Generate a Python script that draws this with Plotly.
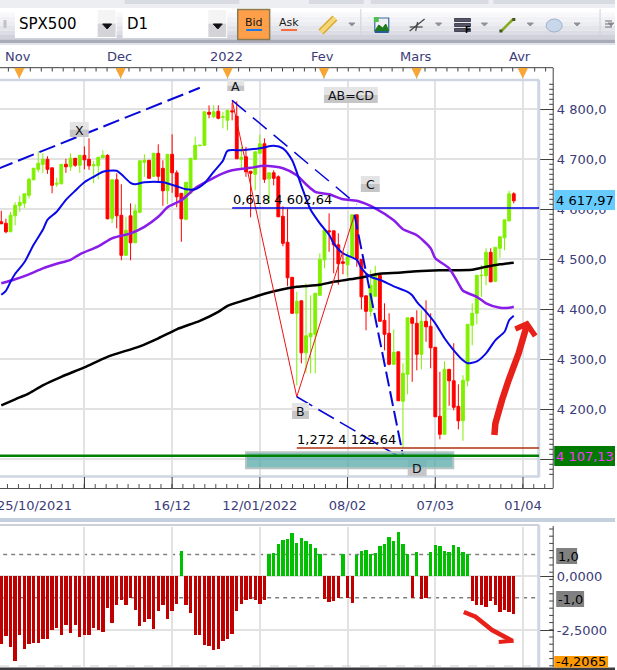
import plotly.graph_objects as go

W, H = 617, 670

# ---------- data (bar index 0..111) ----------
opens = [4575,4572,4555,4587,4607,4612,4628,4659,4680,4690,4700,4683,4650,4651,4690,4685,4702,4688,4708,4700,4687,4687,4703,4708,4582,4659,4588,4508,4587,4533,4594,4694,4698,4666,4712,4682,4637,4710,4673,4632,4580,4632,4700,4727,4728,4794,4785,4796,4784,4778,4797,4786,4700,4705,4676,4670,4712,4731,4661,4673,4665,4586,4534,4464,4392,4417,4313,4345,4350,4428,4499,4557,4557,4529,4495,4489,4505,4589,4500,4427,4396,4426,4468,4378,4352,4290,4315,4216,4270,4383,4372,4310,4376,4366,4324,4186,4150,4280,4257,4206,4177,4257,4368,4392,4467,4467,4514,4456,4522,4543,4577,4631]
highs = [4597,4581,4595,4614,4627,4631,4663,4683,4716,4712,4706,4683,4663,4690,4701,4712,4702,4708,4726,4742,4697,4705,4718,4710,4659,4672,4650,4585,4612,4610,4698,4710,4698,4713,4730,4698,4710,4750,4678,4632,4654,4702,4745,4729,4795,4808,4808,4808,4795,4798,4813,4816,4725,4725,4677,4715,4749,4742,4673,4678,4668,4606,4601,4464,4435,4417,4452,4428,4432,4512,4560,4592,4557,4552,4515,4515,4589,4589,4500,4427,4479,4487,4472,4412,4392,4360,4315,4292,4383,4385,4398,4398,4418,4392,4324,4275,4296,4280,4332,4250,4268,4370,4412,4468,4488,4522,4522,4524,4545,4579,4637,4634]
lows = [4571,4552,4555,4568,4595,4603,4622,4658,4674,4672,4671,4632,4645,4650,4673,4677,4685,4673,4680,4679,4652,4660,4703,4580,4572,4562,4498,4508,4498,4533,4592,4665,4662,4665,4655,4607,4610,4633,4604,4535,4578,4632,4698,4727,4728,4782,4782,4780,4762,4758,4778,4701,4682,4665,4584,4638,4711,4653,4612,4648,4585,4526,4446,4392,4248,4292,4273,4272,4272,4428,4482,4515,4472,4449,4470,4465,4505,4485,4400,4358,4386,4426,4376,4318,4288,4290,4217,4122,4230,4255,4278,4280,4335,4282,4185,4140,4150,4207,4198,4160,4137,4246,4328,4370,4425,4448,4454,4455,4503,4518,4575,4612]
closes = [4571,4555,4588,4608,4614,4631,4660,4682,4692,4700,4680,4648,4652,4690,4685,4702,4688,4708,4699,4687,4689,4704,4708,4581,4659,4587,4508,4558,4533,4597,4697,4698,4662,4712,4666,4637,4710,4673,4625,4581,4654,4702,4728,4728,4795,4790,4795,4782,4785,4798,4795,4701,4704,4675,4672,4715,4731,4660,4673,4662,4585,4532,4463,4392,4416,4313,4347,4352,4432,4500,4559,4555,4529,4491,4492,4505,4589,4500,4425,4396,4448,4468,4376,4350,4290,4314,4217,4272,4383,4372,4310,4376,4365,4323,4185,4150,4280,4257,4204,4177,4258,4370,4392,4468,4468,4514,4455,4524,4545,4579,4631,4617]

histogram = [-3.12,-2.78,-3.29,-3.94,-2.73,-3.38,-3.15,-3.10,-3.10,-2.92,-2.92,-2.50,-2.41,-2.73,-2.27,-2.64,-2.27,-2.82,-2.73,-2.73,-2.41,-2.50,-2.59,-1.48,-2.18,-1.34,-1.11,-1.34,-1.02,-1.57,-2.31,-2.13,-1.99,-2.45,-1.62,-1.34,-1.99,-1.62,-1.30,1.16,-1.34,-1.71,-2.73,-2.73,-3.19,-3.24,-3.43,-3.38,-3.01,-2.92,-2.69,-1.62,-1.30,-1.11,-1.06,-1.11,-1.30,-1.11,1.02,1.06,1.48,1.67,1.71,1.99,1.53,1.76,1.62,1.48,1.30,1.02,-1.06,-1.19,-1.16,-1.03,1.02,-1.03,-1.25,0.97,1.16,1.20,1.02,1.06,1.39,1.48,1.81,1.62,2.04,1.48,1.02,-1.03,1.11,-1.06,-1.02,1.11,1.44,1.39,1.16,1.11,1.44,1.34,1.11,1.02,-1.16,-1.34,-1.34,-1.44,-1.16,-1.34,-1.67,-1.57,-1.67,-1.76]

blue_x = [0,1,2,3,5,7,9,10,12,14,16,18,20,22,23,25,26,28,29,31,35,38,40,42,44,46,48,49,52,56,59,61,63,65,67,69,71,72,74,77,78,80,82,85,88,89,90,92,94,96,98,100,101,103,105,107,109,110,111]
blue_y = [4429,4437,4455,4471,4494,4529,4559,4579,4595,4619,4637,4654,4665,4675,4677,4677,4670,4653,4650,4654,4654,4646,4640,4640,4652,4675,4697,4717,4718,4722,4727,4722,4698,4647,4599,4572,4549,4532,4512,4499,4482,4465,4459,4446,4435,4428,4415,4395,4372,4342,4318,4298,4292,4296,4312,4338,4355,4378,4387]

purple_x = [0,3,6,9,12,15,17,21,24,28,31,34,36,39,42,45,48,50,54,57,61,64,66,68,71,74,77,81,85,87,90,93,94,97,99,100,103,105,108,110,111]
purple_y = [4452,4460,4470,4482,4491,4499,4510,4526,4542,4552,4565,4585,4604,4618,4642,4658,4672,4678,4683,4687,4682,4668,4650,4635,4630,4620,4617,4602,4578,4560,4548,4522,4502,4482,4452,4437,4425,4412,4403,4403,4405]

black_x = [0,3,6,9,13,18,23,30,34,38,43,47,49,53,57,61,64,69,72,77,82,86,90,95,102,105,108,111]
black_y = [4208,4220,4232,4248,4265,4284,4305,4326,4342,4360,4377,4395,4407,4419,4431,4440,4445,4449,4455,4462,4471,4473,4476,4478,4479,4485,4490,4493]

# harmonic drawing: pivots X line, A, B, C, D
pattern_x = [50, 64, 76.5]
pattern_y = [4818, 4225, 4589]
line_x_x, line_x_y = [-1, 43], [4680, 4843]
line_ac_x, line_ac_y = [50, 77], [4818, 4610]
line_cd_x, line_cd_y = [76.5, 87], [4589, 4108]
line_bd_x, line_bd_y = [64, 86], [4225, 4106]
fib_618 = 4602.64
fib_1272 = 4122.64
support = 4107.13
zone_x, zone_y = [53, 97.9], [4082, 4114]

grid_x = [18, 37, 56, 75, 94, 113]
grid_lab = ["", "16/12", "12/01/2022", "08/02", "07/03", "01/04"]
price_ticks = [4100, 4200, 4300, 4400, 4500, 4600, 4700, 4800]
price_lab = ["", "4 200,0", "4 300,0", "4 400,0", "4 500,0", "4 600,0", "4 700,0", "4 800,0"]
months = ["Nov", "Dec", "2022", "Fev", "Mars", "Avr"]

# ---------- layout helpers (screen chrome only) ----------
INK = "#3c3c78"
FONT = "DejaVu Sans"
shapes, annos = [], []
PX = lambda x: x / W
PY = lambda y: 1 - y / H


def rect(x0, y0, x1, y1, fill, line=None, lw=1, layer="above"):
    shapes.append(dict(type="rect", xref="paper", yref="paper", x0=PX(x0), x1=PX(x1), y0=PY(y0), y1=PY(y1),
                       fillcolor=fill, line=dict(color=line or fill, width=lw if line else 0), layer=layer))


def seg(x0, y0, x1, y1, color, lw=1, layer="above", dash=None):
    shapes.append(dict(type="line", xref="paper", yref="paper", x0=PX(x0), x1=PX(x1), y0=PY(y0), y1=PY(y1),
                       line=dict(color=color, width=lw, dash=dash), layer=layer))


def poly(pts, color, lw=1, fill=None):
    d = "M " + " L ".join(f"{PX(x):.5f} {PY(y):.5f}" for x, y in pts)
    if fill:
        d += " Z"
    shapes.append(dict(type="path", xref="paper", yref="paper", path=d, line=dict(color=color, width=lw),
                       fillcolor=fill or "rgba(0,0,0,0)", layer="above"))


def text(s, x, y, size=13, color="#000000", anchor="left", bg=None):
    annos.append(dict(xref="paper", yref="paper", x=PX(x), y=PY(y), text=s, showarrow=False, xanchor=anchor,
                      yanchor="middle", font=dict(family=FONT, size=size, color=color), borderpad=0, bgcolor=bg))


def gradbox(x0, y0, x1, y1, top, bot):
    mid = (y0 + y1) / 2
    rect(x0, y0, x1, mid, top)
    rect(x0, mid, x1, y1, bot)


# toolbar
rect(0, 0, W, 8, "#eceef2")
rect(125, 0, 240, 4, "#d8dbe2"); rect(310, 0, 365, 4, "#d8dbe2"); rect(372, 0, 490, 4, "#d8dbe2"); rect(495, 0, 617, 4, "#d8dbe2")
bands = ["#ffffff", "#f8f8fa", "#f2f2f6", "#ecedf1", "#e4e5ea", "#dcdde4", "#d0d1da"]
for k, c in enumerate(bands):
    rect(0, 8 + k * 4.5, W, 8 + (k + 1) * 4.5, c)
rect(0, 39.5, W, 43, "#a9abb8")
rect(0, 43, W, 45, "#e1e3ea")
rect(15, 9, 117, 38, "#ffffff"); gradbox(98, 10, 116, 37, "#f4f4f4", "#d4d4d8")
rect(123, 9, 228, 38, "#ffffff"); gradbox(209, 10, 227, 37, "#f4f4f4", "#d4d4d8")
text("SPX500", 18, 24, 15)
text("D1", 126, 24, 15)
poly([(103, 24), (112, 24), (107.5, 29)], "#111111", 1, "#111111")
poly([(214, 24), (223, 24), (218.5, 29)], "#111111", 1, "#111111")
rect(238.5, 9.5, 270.5, 39.5, "#ff9f4a", "#8c7a50", 1.5)
text("Bid", 255, 23, 11, "#1a1a1a", "center")
rect(247, 29, 263, 31, "#1e78e6")
text("Ask", 290, 23, 11, "#1a1a1a", "center")
rect(282, 29, 298, 31, "#ff6a3c")
seg(5, 20, 5, 28, "#c0c0c8", 3)
for xs in (362, 602):
    seg(xs, 9, xs, 38, "#d0d2da", 1)
poly([(322, 32), (336, 18)], "#d8a830", 7)
poly([(322, 32), (336, 18)], "#f4d878", 4)
for xc in (353, 440, 486, 532, 579, 613):
    poly([(xc - 3, 23), (xc + 3, 23), (xc, 26)], "#909098", 1, "#909098")
rect(376, 18, 390, 31, "#f0f0f4", "#3a6aa0", 1.2)
poly([(376, 31), (380, 25), (384, 28), (387, 24), (390, 31)], "#1d7a1d", 1, "#1d7a1d")
rect(375, 17, 380, 22, "#50c050")
rect(376, 31, 390, 33, "#2a5a9a")
poly([(411, 31), (426, 19)], "#444444", 1.2); poly([(417, 31), (419, 22)], "#444444", 1.2); poly([(411, 27), (424, 27)], "#444444", 1.2)
for yy in (20, 25, 30):
    rect(456, yy - 1.5, 472, yy + 1.5, "#555566", "#303040", 0.8)
text("<b>F</b>", 469, 30, 8, "#000000", "center")
poly([(503, 31), (515, 19)], "#88aa22", 2.5)
rect(501, 29.5, 504, 32.5, "#445522"); rect(514, 18, 517, 21, "#445522")
shapes.append(dict(type="circle", xref="paper", yref="paper", x0=PX(548), x1=PX(564), y0=PY(32), y1=PY(19),
                   fillcolor="#c8d8ea", line=dict(color="#9ab0cc", width=1), layer="above"))
for yy in (21, 24, 27):
    seg(607, yy, 614, yy, "#808088", 1.2)

# upper time strip
month_cx = [18.5, 120, 227, 324, 417, 522]
marker_x = [19.3, 121, 228.3, 325, 418, 524.5]
for m, cx in zip(months, month_cx):
    text(m, cx, 56.5, 13, INK, "center")
seg(0, 67.7, 555, 67.7, "#404040", 1)
k = 8.4
while k < 555:
    seg(k, 68, k, 71.5, "#404040", 1)
    k += 11
for mx in marker_x:
    seg(mx, 76, mx, 81, "#b8b8b8", 1)
    poly([(mx - 4.5, 68.5), (mx + 4.5, 68.5), (mx, 77.5)], "#f7a535", 1, "#f7a535")

# panel frames and right-hand axis
seg(0, 80, 541, 80, "#cdd6e2", 2.5)
seg(0, 476.5, 541, 476.5, "#cdd6e2", 2.5)
seg(540.5, 80, 540.5, 477, "#cdd6e2", 3)
seg(555, 68, 555, 488, "#404040", 1)
seg(0, 488.5, 555, 488.5, "#505050", 1)
k = 7.5
while k < 555:
    seg(k, 484, k, 488.5, "#505050", 1)
    k += 11
for gx in grid_x:
    xp = (1.3 + 4.632 * gx)
    seg(xp, 477, xp, 488.5, "#303030", 1)
p = 4070
while p <= 4850:
    if p % 100:
        shapes.append(dict(type="line", xref="paper", yref="y", x0=PX(551), x1=PX(555), y0=p, y1=p,
                           line=dict(color="#404040", width=1), layer="above"))
    p += 10
text("25/10/2021", 35, 505.5, 13, INK, "center")

rect(0, 518, W, 522, "#c5d0de")
rect(0, 524, 541, 526, "#ccd0d8")
seg(540.5, 525, 540.5, 667, "#cdd6e2", 3)
seg(555, 526, 555, 667, "#404040", 1)
k = 529
while k < 667:
    seg(551, k, 555, k, "#404040", 1)
    k += 7.2
seg(0, 666, 541, 666, "#d0d0d0", 1, dash="dash")
rect(0, 667.5, W, 670, "#3c3c40")

# price tags
rect(556, 190, W, 210, "#66ccff")
text("4 617,97", 557, 200.5, 13, "#000000")
rect(556, 446, W, 466, "#007a00")
text("4 107,13", 557, 456.5, 13, "#ff33ff")
rect(558, 548, 579, 564, "#808080")
text("1,0", 559, 556.5, 13, "#000000")
rect(558, 591, 586, 607, "#808080")
text("-1,0", 559, 599.5, 13, "#000000")
rect(556, 656, 610, 667.5, "#ff9900")
text("-4,2065", 557, 661.5, 13, "#000000")

# labels on the drawing
labels = [("X", 70, 122, 89, 137), ("A", 228, 80, 245, 91), ("AB=CD", 325, 87, 379, 103),
          ("C", 362, 176, 381, 192), ("B", 293, 403, 310, 419), ("D", 409, 460, 428, 476)]
for s, x0, y0, x1, y1 in labels:
    gradbox(x0, y0, x1, y1, "#e4e4e4", "#c6c6c6")
    text(s, (x0 + x1) / 2, (y0 + y1) / 2 + 0.5, 12.5, "#10101a", "center")
text("0,618 4 602,64", 233, 199.5, 13, "#000000")
text("1,272 4 122,64", 297, 439.5, 13, "#000000")

# hand-drawn arrows
arrow1 = [(307 + x / 3, 260 + y / 3) for x, y in [(567, 525), (570, 490), (590, 420), (610, 360), (640, 280), (665, 195)]]
poly(arrow1, "#e8201a", 6.5)
poly([(307 + x / 3, 260 + y / 3) for x, y in [(630, 207), (665, 192), (690, 228)]], "#e8201a", 5.5)
poly([(307 + x / 3, 510 + y / 3) for x, y in [(475, 306), (510, 320), (560, 360), (620, 392)]], "#e8201a", 4.5)
poly([(307 + x / 3, 510 + y / 3) for x, y in [(580, 396), (625, 392)]], "#e8201a", 4)

# data-referenced levels
shapes.append(dict(type="rect", xref="x", yref="y", x0=zone_x[0], x1=zone_x[1], y0=zone_y[0], y1=zone_y[1],
                   fillcolor="rgba(80,165,165,0.72)", line=dict(color="#b8c4c4", width=2), layer="above"))
shapes.append(dict(type="line", xref="x", yref="y", x0=50, x1=116.5, y0=fib_618, y1=fib_618,
                   line=dict(color="#0000e0", width=1.3), layer="above"))
shapes.append(dict(type="line", xref="x", yref="y", x0=64, x1=116.5, y0=fib_1272, y1=fib_1272,
                   line=dict(color="#b03010", width=1.3), layer="above"))
shapes.append(dict(type="line", xref="x", yref="y", x0=-1, x1=116.5, y0=support, y1=support,
                   line=dict(color="#008000", width=2.5), layer="above"))
for lv in (1, -1):
    shapes.append(dict(type="line", xref="x2", yref="y2", x0=0.4, x1=116.5, y0=lv, y1=lv,
                       line=dict(color="#808080", width=1.5, dash="4px,4px"), layer="below"))
shapes.append(dict(type="line", xref="x2", yref="y2", x0=-1, x1=116.5, y0=0, y1=0,
                   line=dict(color="#00c000", width=2), layer="below"))

# ---------- figure ----------
fig = go.Figure()
idx = list(range(len(closes)))
fig.add_trace(go.Candlestick(x=idx, open=opens, high=highs, low=lows, close=closes, whiskerwidth=0,
                             increasing=dict(line=dict(color="#80f000", width=1), fillcolor="#80f000"),
                             decreasing=dict(line=dict(color="#ff0000", width=1), fillcolor="#ff0000"),
                             xaxis="x", yaxis="y", hoverinfo="skip"))


def add_line(x, y, color, width, dash=None, spline=False):
    line = dict(color=color, width=width, dash=dash)
    if spline:
        line.update(shape="spline", smoothing=0.7)
    fig.add_trace(go.Scatter(x=x, y=y, mode="lines", line=line, xaxis="x", yaxis="y", hoverinfo="skip"))


add_line(black_x, black_y, "#000000", 2.5, spline=True)
add_line(purple_x, purple_y, "#8a1ce8", 2.5, spline=True)
add_line(blue_x, blue_y, "#0808e8", 2, spline=True)
add_line(pattern_x, pattern_y, "#f01010", 1)
add_line(line_x_x, line_x_y, "#0808d8", 2, "17px,6px")
add_line(line_ac_x, line_ac_y, "#0808d8", 1.5, "18px,9px")
add_line(line_cd_x, line_cd_y, "#0808d8", 2, "15px,5px")
add_line(line_bd_x, line_bd_y, "#0808d8", 1.6, "18px,7px")

fig.add_trace(go.Bar(x=idx, y=histogram, width=0.72, xaxis="x2", yaxis="y2", hoverinfo="skip",
                     marker=dict(color=["#00c000" if v > 0 else "#c00000" for v in histogram], line=dict(width=0))))

x_range = [-0.28, 116.52]
axis_font = dict(family=FONT, size=13, color=INK)
fig.update_layout(
    width=W, height=H, margin=dict(l=0, r=0, t=0, b=0), paper_bgcolor="#ffffff", plot_bgcolor="#ffffff",
    showlegend=False, bargap=0, boxgap=0.12, shapes=shapes, annotations=annos, hovermode=False,
    xaxis=dict(domain=[0, 541 / W], range=x_range, rangeslider=dict(visible=False), tickmode="array", tickvals=grid_x,
               ticktext=grid_lab, showgrid=True, gridcolor="#e2e2e2", gridwidth=1.5, ticks="", tickfont=axis_font,
               ticklabelstandoff=20, zeroline=False, anchor="y"),
    yaxis=dict(domain=[1 - 476 / H, 1 - 80 / H], range=[4066.6, 4858.6], side="right", tickmode="array",
               tickvals=price_ticks, ticktext=price_lab, showgrid=True, gridcolor="#e2e2e2", gridwidth=1.5,
               ticks="outside", ticklen=14, tickcolor="#404040", tickfont=axis_font, zeroline=False, anchor="x"),
    xaxis2=dict(domain=[0, 541 / W], range=x_range, tickmode="array", tickvals=grid_x, showticklabels=False,
                showgrid=True, gridcolor="#e2e2e2", gridwidth=1.5, ticks="", zeroline=False, anchor="y2"),
    yaxis2=dict(domain=[1 - 667 / H, 1 - 527 / H], range=[-4.2065, 2.27], side="right", tickmode="array",
                tickvals=[0, -2.5], ticktext=["0,0000", "-2,5000"], showgrid=True, gridcolor="#e2e2e2", gridwidth=1.5,
                ticks="outside", ticklen=14, tickcolor="#404040", tickfont=axis_font, zeroline=False, anchor="x2"),
)

fig.write_html("out.html", config=dict(displayModeBar=False),
               post_script="document.body.style.margin='0';document.body.style.overflow='hidden';")
